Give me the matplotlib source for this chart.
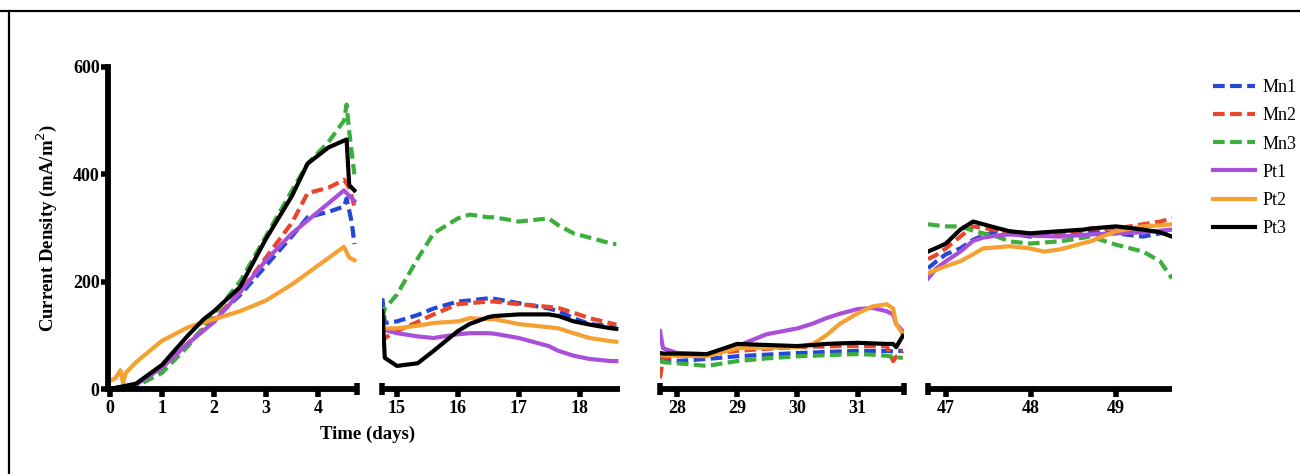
import matplotlib
matplotlib.use("Agg")
import matplotlib.pyplot as plt
from matplotlib.lines import Line2D

plt.rcParams['font.family'] = ['Liberation Serif', 'DejaVu Serif']

# current density (mA/m^2) over four measuring windows, read per series
labels = ['Mn1', 'Mn2', 'Mn3', 'Pt1', 'Pt2', 'Pt3']
colors = ['#2447d6', '#e8472b', '#3cae3c', '#a94fd8', '#f5a031', '#000000']

# window 1: days 0 - 4.7
t1_mn1 = [0, 0.5, 1, 1.5, 2, 2.5, 3, 3.5, 3.8, 4.2, 4.5, 4.55, 4.65, 4.7]
v1_mn1 = [0, 8, 40, 85, 130, 175, 230, 285, 320, 330, 340, 355, 310, 270]
t1_mn2 = [0, 0.5, 1, 1.5, 2, 2.5, 3, 3.5, 3.8, 4.2, 4.5, 4.6, 4.7]
v1_mn2 = [0, 8, 40, 85, 130, 180, 245, 310, 365, 375, 390, 375, 340]
t1_mn3 = [0, 0.5, 1, 1.5, 2, 2.5, 3, 3.5, 3.8, 4.2, 4.5, 4.55, 4.6, 4.7]
v1_mn3 = [0, 5, 30, 80, 140, 200, 285, 370, 420, 460, 500, 530, 480, 400]
t1_pt1 = [0, 0.5, 1, 1.5, 2, 2.5, 3, 3.5, 4, 4.5, 4.7]
v1_pt1 = [0, 8, 40, 85, 125, 180, 240, 290, 330, 370, 350]
t1_pt2 = [0, 0.1, 0.2, 0.25, 0.3, 0.5, 1, 1.5, 2, 2.5, 3, 3.5, 4, 4.5, 4.6, 4.7]
v1_pt2 = [15, 20, 35, 10, 30, 50, 90, 115, 130, 145, 165, 195, 230, 265, 245, 240]
t1_pt3 = [0, 0.5, 1, 1.5, 1.8, 2, 2.5, 3, 3.5, 3.8, 4.2, 4.55, 4.6, 4.7]
v1_pt3 = [0, 10, 45, 100, 130, 145, 190, 280, 360, 420, 450, 465, 380, 370]

# window 2: days 14.75 - 18.6
t2 = [14.76, 14.8, 15.0, 15.34, 15.6, 16.0, 16.19, 16.5, 16.6, 17.0, 17.49, 17.65, 17.9, 18.16, 18.52, 18.6]
v2_mn1 = [169, 123, 126, 138, 150, 163, 165, 169, 168, 160, 150, 145, 132, 121, 117, 115]
v2_mn2 = [84, 95, 108, 125, 139, 158, 160, 163, 163, 158, 153, 151, 142, 132, 122, 120]
v2_mn3 = [132, 150, 176, 243, 290, 318, 325, 320, 320, 312, 318, 305, 290, 282, 271, 270]
v2_pt1 = [120, 110, 104, 98, 95, 102, 104, 104, 103, 95, 80, 71, 62, 56, 52, 52]
v2_pt2 = [120, 113, 113, 118, 123, 126, 132, 130, 130, 121, 115, 113, 104, 95, 89, 88]
v2_pt3 = [145, 58, 43, 48, 71, 108, 121, 134, 136, 139, 139, 136, 126, 120, 113, 112]

# window 3: days 27.7 - 31.8
t3 = [27.72, 27.77, 28.0, 28.5, 29.0, 29.49, 30.0, 30.26, 30.48, 30.7, 31.0, 31.25, 31.48, 31.59, 31.64, 31.75]
v3_mn1 = [58, 55, 52, 56, 61, 64, 67, 68, 69, 70, 71, 71, 71, 70, 71, 71]
v3_mn2 = [20, 58, 61, 65, 71, 75, 78, 79, 79, 80, 80, 80, 80, 52, 60, 71]
v3_mn3 = [52, 50, 48, 43, 52, 57, 61, 62, 63, 64, 65, 64, 62, 60, 59, 58]
v3_pt1 = [108, 76, 67, 65, 80, 102, 113, 122, 132, 140, 149, 151, 145, 139, 121, 108]
v3_pt2 = [65, 63, 62, 61, 76, 77, 78, 84, 100, 121, 141, 154, 158, 150, 121, 102]
v3_pt3 = [67, 66, 66, 65, 84, 82, 80, 82, 84, 85, 86, 85, 84, 84, 78, 99]

# window 4: days 46.8 - 49.7
t4 = [46.79, 46.89, 47.0, 47.17, 47.32, 47.44, 47.6, 47.75, 47.99, 48.15, 48.34, 48.62, 48.7, 49.0, 49.32, 49.52, 49.66]
v4_mn1 = [225, 238, 251, 262, 278, 286, 294, 290, 284, 286, 288, 292, 294, 290, 284, 290, 294]
v4_mn2 = [242, 250, 262, 284, 303, 300, 296, 293, 290, 290, 290, 296, 299, 299, 307, 312, 318]
v4_mn3 = [307, 305, 303, 303, 295, 290, 284, 275, 271, 273, 275, 282, 284, 269, 256, 238, 206]
v4_pt1 = [206, 225, 238, 256, 276, 282, 286, 288, 286, 285, 284, 287, 288, 290, 292, 295, 297]
v4_pt2 = [216, 222, 229, 238, 251, 262, 264, 266, 262, 256, 260, 272, 275, 294, 303, 305, 307]
v4_pt3 = [256, 263, 271, 297, 312, 307, 300, 294, 290, 292, 294, 297, 299, 303, 297, 292, 284]

windows = [
    ([t1_mn1, t1_mn2, t1_mn3, t1_pt1, t1_pt2, t1_pt3],
     [v1_mn1, v1_mn2, v1_mn3, v1_pt1, v1_pt2, v1_pt3]),
    ([t2] * 6, [v2_mn1, v2_mn2, v2_mn3, v2_pt1, v2_pt2, v2_pt3]),
    ([t3] * 6, [v3_mn1, v3_mn2, v3_mn3, v3_pt1, v3_pt2, v3_pt3]),
    ([t4] * 6, [v4_mn1, v4_mn2, v4_mn3, v4_pt1, v4_pt2, v4_pt3]),
]
xticks = [[0, 1, 2, 3, 4], [15, 16, 17, 18], [28, 29, 30, 31], [47, 48, 49]]
xlims = [(-0.04, 4.75), (14.754, 18.66), (27.72, 31.77), (46.79, 49.66)]
lefts_px = [108, 382, 660, 928]
rights_px = [357, 620, 904, 1172]
# which ends of each x axis get a small end bar
caps = [(False, True), (True, False), (True, True), (True, False)]

W, H = 1300, 474
fig = plt.figure(figsize=(W / 100, H / 100), dpi=100)

bottom = (H - 389) / H
height = 322 / H
lw_axis = 4.2
fs = 13

for i, (ts, vs) in enumerate(windows):
    ax = fig.add_axes([lefts_px[i] / W, bottom, (rights_px[i] - lefts_px[i]) / W, height])
    for k in range(6):
        if k < 3:
            ax.plot(ts[k], vs[k], color=colors[k], lw=3, dashes=(2.8, 1.3),
                    solid_capstyle='butt', label=labels[k])
        else:
            ax.plot(ts[k], vs[k], color=colors[k], lw=3, label=labels[k])
    ax.set_xlim(*xlims[i])
    ax.set_ylim(0, 600)
    ax.set_xticks(xticks[i])
    ax.set_xticklabels([str(x) for x in xticks[i]], fontweight='bold', fontsize=fs)
    ax.tick_params(axis='x', which='major', direction='out', length=6, width=4, pad=2)

    ends = []
    if caps[i][0]:
        ends.append(xlims[i][0])
    if caps[i][1]:
        ends.append(xlims[i][1])
    ax.set_xticks(ends, minor=True)
    ax.tick_params(axis='x', which='minor', direction='inout', length=9, width=4)

    for s in ['top', 'right']:
        ax.spines[s].set_visible(False)
    ax.spines['bottom'].set_linewidth(lw_axis)
    ax.spines['bottom'].set_capstyle('butt')
    ax.patch.set_alpha(0)

    if i == 0:
        ax.spines['left'].set_linewidth(lw_axis)
        ax.set_yticks([0, 200, 400, 600])
        ax.set_yticklabels(['0', '200', '400', '600'], fontweight='bold', fontsize=fs)
        ax.tick_params(axis='y', direction='out', length=5, width=4, pad=1)
        ax.set_ylabel('Current Density (mA/m$^2$)', fontweight='bold', fontsize=13.5,
                      labelpad=10)
        handles, hl = ax.get_legend_handles_labels()
    else:
        ax.spines['left'].set_visible(False)
        ax.set_yticks([])

    if i == 1:
        ax.set_xlabel('Time (days)', fontweight='bold', fontsize=13.5)
        ax.xaxis.set_label_coords((368 - lefts_px[1]) / (rights_px[1] - lefts_px[1]),
                                  -0.115)

fig.legend(handles, hl, loc='upper left', bbox_to_anchor=(1206 / W, (H - 72) / H),
           frameon=False, fontsize=13, handlelength=2.3, handletextpad=0.45,
           labelspacing=0.62, borderaxespad=0)

# frame lines along the top and left edges
fig.add_artist(Line2D([0, 1], [(H - 11) / H] * 2, color='black', lw=1.6,
                      transform=fig.transFigure))
fig.add_artist(Line2D([9 / W] * 2, [0, (H - 11) / H], color='black', lw=1.6,
                      transform=fig.transFigure))

fig.savefig('out.png', dpi=100)
